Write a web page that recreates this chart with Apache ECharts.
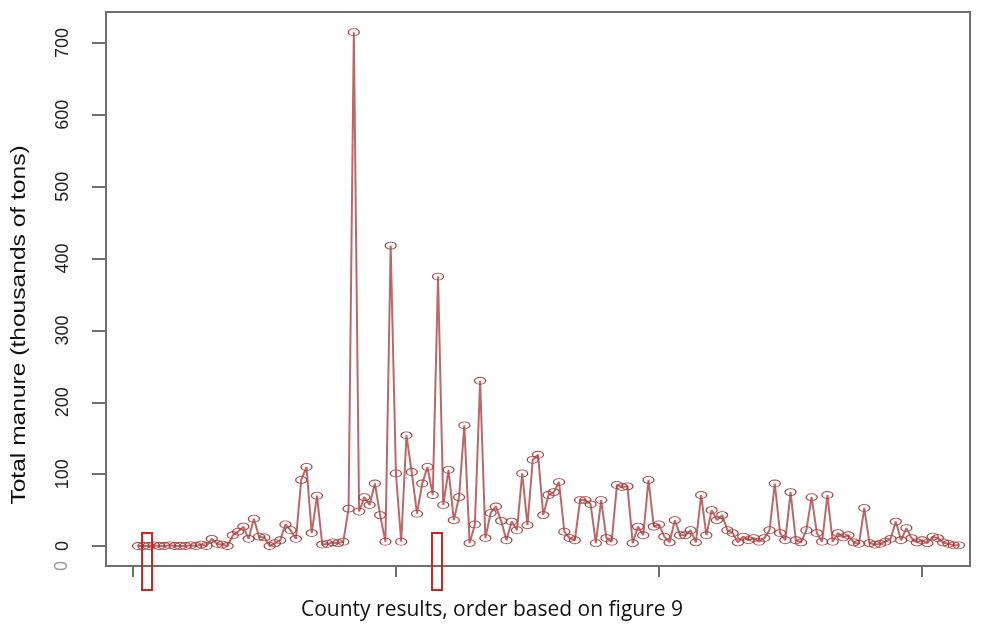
<!DOCTYPE html>
<html>
<head>
<meta charset="utf-8">
<script src="https://cdn.jsdelivr.net/npm/echarts@6/dist/echarts.min.js"></script>
<style>
  html, body { margin: 0; padding: 0; background: #fff; }
  #chart { width: 986px; height: 635px; }
</style>
</head>
<body>
<div id="chart"></div>
<script>
// Total manure per county (thousands of tons), counties in the order of figure 9
const manure = [
  0, 0, 0, 1, 0, 0, 1, 0, 0, 0, 1, 0, 2, 0, 10, 3, 2, 0, 15, 20,
  27, 10, 38, 13, 12, 0, 4, 8, 30, 22, 10, 92, 110, 18, 70, 2, 3, 5, 4, 6,
  52, 715, 48, 68, 57, 87, 43, 6, 418, 101, 6, 154, 103, 45, 87, 110, 71, 375, 57, 106,
  36, 68, 168, 4, 30, 230, 11, 46, 55, 35, 8, 34, 22, 101, 29, 120, 127, 43, 71, 75,
  89, 20, 11, 8, 64, 64, 58, 4, 64, 11, 6, 85, 82, 83, 4, 27, 15, 92, 27, 30,
  13, 5, 36, 15, 15, 22, 5, 71, 15, 50, 36, 43, 22, 18, 5, 13, 8, 11, 6, 11,
  22, 87, 18, 8, 75, 8, 5, 22, 68, 18, 6, 71, 6, 18, 12, 15, 5, 3, 53, 4,
  2, 3, 6, 10, 34, 8, 25, 11, 5, 8, 4, 13, 11, 5, 3, 1, 1
];
const yTicks = [0, 100, 200, 300, 400, 500, 600, 700];
const xTicks = [0, 50, 100, 150];
// counties highlighted with a box (position in the ordering, value at box top)
const highlighted = [[2.7, 18], [57.8, 18]];

const xTitle = 'County results, order based on figure 9';
const yTitle = 'Total manure (thousands of tons)';

const axisGrey = '#6f6f6f';
const lineRed = '#bd6868';
const pointRed = '#b23a3a';

const points = manure.map((v, i) => [i + 1, v]);

const chart = echarts.init(document.getElementById('chart'), null, { renderer: 'canvas' });

chart.setOption({
  animation: false,
  backgroundColor: '#fff',
  grid: { left: 106, right: 16, top: 12, bottom: 69, show: true, borderColor: axisGrey, borderWidth: 2, backgroundColor: 'transparent' },
  xAxis: {
    type: 'value',
    min: -5.1,
    max: 159.1,
    axisLine: { show: true, onZero: false, lineStyle: { color: axisGrey, width: 2 } },
    axisTick: { show: true, length: 11, customValues: xTicks, lineStyle: { color: axisGrey, width: 2 } },
    axisLabel: { show: false, customValues: xTicks },
    splitLine: { show: false }
  },
  yAxis: {
    type: 'value',
    min: -27.8,
    max: 743.1,
    axisLine: { show: true, onZero: false, lineStyle: { color: axisGrey, width: 2 } },
    axisTick: { show: true, length: 14, customValues: yTicks, lineStyle: { color: axisGrey, width: 2 } },
    axisLabel: {
      customValues: yTicks,
      rotate: 90,
      margin: 34,
      fontFamily: 'Liberation Sans',
      fontSize: 18,
      color: '#222'
    },
    splitLine: { show: false }
  },
  series: [{
    type: 'line',
    data: points,
    symbol: 'circle',
    symbolSize: [11, 7],
    showAllSymbol: true,
    lineStyle: { color: lineRed, width: 2 },
    itemStyle: { color: 'rgba(255,255,255,0)', borderColor: pointRed, borderWidth: 1 },
    emphasis: { disabled: true },
    z: 3
  }],
  graphic: [
    {
      type: 'text',
      x: 492, y: 610,
      style: { text: xTitle, font: '21px "Open Sans"', fill: '#111', align: 'center', verticalAlign: 'middle' },
      z: 10
    },
    {
      // vertical title, stretched along its reading direction
      type: 'text',
      x: 19, y: 325,
      rotation: Math.PI / 2,
      scaleX: 1.17,
      style: { text: yTitle, font: '21px "Liberation Sans"', fill: '#111', align: 'center', verticalAlign: 'middle' },
      z: 10
    },
    {
      type: 'text',
      x: 62, y: 566,
      rotation: Math.PI / 2,
      style: { text: '0', font: '18px "Liberation Sans"', fill: '#9a9a9a', align: 'center', verticalAlign: 'middle' },
      z: 10
    }
  ]
});

// Boxes marking two highlighted counties, placed through the axis scales
function drawHighlights() {
  const boxes = highlighted.map(([xv, yv]) => {
    const top = chart.convertToPixel({ gridIndex: 0 }, [xv, yv]);
    return {
      type: 'rect',
      shape: { x: top[0] - 5, y: top[1], width: 10, height: 590 - top[1] },
      style: { fill: 'none', stroke: '#d42020', lineWidth: 2 },
      z: 10
    };
  });
  const opt = chart.getOption();
  chart.setOption({ graphic: opt.graphic[0].elements.concat(boxes) });
}
drawHighlights();
</script>
</body>
</html>
